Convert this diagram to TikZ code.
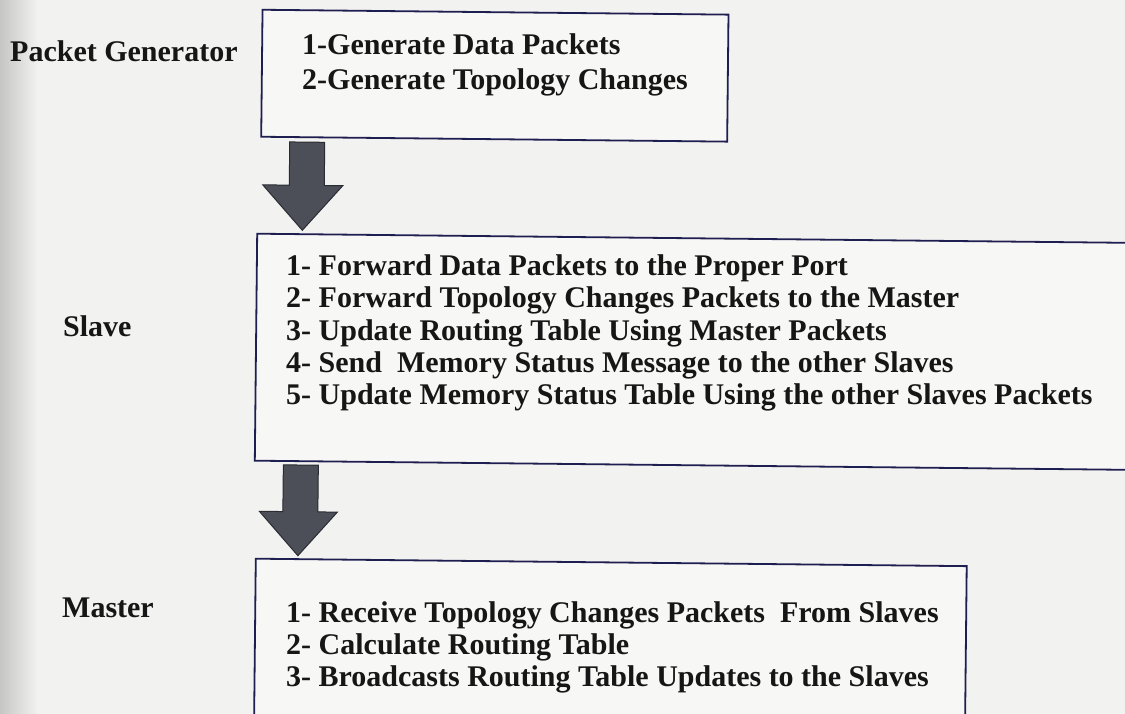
\documentclass[tikz,border=0pt]{standalone}
\usepackage{fontspec}
\setmainfont{Liberation Serif}
\usetikzlibrary{calc}

\definecolor{paper}{HTML}{F2F2F0}
\definecolor{paperedge}{HTML}{C6C6C4}
\definecolor{boxfill}{HTML}{F7F7F6}
\definecolor{frame}{HTML}{1E1E50}
\definecolor{ink}{HTML}{161616}
\definecolor{arrowfill}{HTML}{4C4F57}
\definecolor{arrowline}{HTML}{2A2C33}

\tikzset{
  stagebox/.style={draw=frame, line width=1.8pt, fill=boxfill, inner sep=0pt, anchor=north west},
  steptext/.style={anchor=base west, inner sep=0pt, text=ink, font=\bfseries\fontsize{30}{31.5}\selectfont},
  rolelabel/.style={anchor=base west, inner sep=0pt, text=ink, font=\bfseries\fontsize{30}{31.5}\selectfont},
  blockarrow/.style={fill=arrowfill, draw=arrowline, line width=1pt, line join=miter}
}

\begin{document}
\begin{tikzpicture}[x=1pt, y=-1pt]
  % page background with the darker strip at the binding side
  \fill[paper] (0,0) rectangle (1125,714);
  \shade[left color=paperedge, right color=paper] (0,0) rectangle (38,714);
  \useasboundingbox (0,0) rectangle (1125,714);
  \clip (0,0) rectangle (1125,714);

  % frames and arrows sit slightly skewed on the sheet
  \begin{scope}[rotate around={-0.6:(562,357)}]
    \node[stagebox, transform shape, minimum width=466pt, minimum height=127pt] (gen) at (258,12) {};
    \node[stagebox, transform shape, minimum width=880pt, minimum height=227pt] (slave) at (255,236) {};
    \node[stagebox, transform shape, minimum width=711pt, minimum height=190pt] (master) at (257,561) {};

    % block arrows between the stages
    \coordinate (a1) at ($(gen.south west)+(47,4)$);
    \coordinate (t1) at ($(slave.north west)+(46,-3)$);
    \draw[blockarrow] ($(a1)+(-17.5,0)$) -- ($(a1)+(17.5,0)$) |- ($(t1)+(40,-45)$)
      -- (t1) -- ($(t1)+(-40,-45)$) -| ($(a1)+(-17.5,0)$) -- cycle;

    \coordinate (a2) at ($(slave.south west)+(47,3)$);
    \coordinate (t2) at ($(master.north west)+(43,-2.5)$);
    \draw[blockarrow] ($(a2)+(-17.5,0)$) -- ($(a2)+(17.5,0)$) |- ($(t2)+(39,-44)$)
      -- (t2) -- ($(t2)+(-39,-44)$) -| ($(a2)+(-17.5,0)$) -- cycle;
  \end{scope}

  % role labels
  \node[rolelabel] (lgen) at (10,62) {Packet Generator};
  \node[rolelabel] (lslave) at (63,336) {Slave};
  \node[rolelabel] (lmaster) at (62,617) {Master};

  % packet generator tasks
  \node[steptext] (g1) at (302,55) {1-Generate Data Packets};
  \node[steptext] (g2) at (302,90) {2-Generate Topology Changes};

  % slave tasks
  \node[steptext] (s1) at (286,276) {1- Forward Data Packets to the Proper Port};
  \node[steptext] (s2) at (286,308) {2- Forward Topology Changes Packets to the Master};
  \node[steptext] (s3) at (286,340) {3- Update Routing Table Using Master Packets};
  \node[steptext] (s4) at (286,372) {4- Send\ \ Memory Status Message to the other Slaves};
  \node[steptext] (s5) at (286,404) {5- Update Memory Status Table Using the other Slaves Packets};

  % master tasks
  \node[steptext] (m1) at (286,622) {1- Receive Topology Changes Packets\ \ From Slaves};
  \node[steptext] (m2) at (286,654) {2- Calculate Routing Table};
  \node[steptext] (m3) at (286,686) {3- Broadcasts Routing Table Updates to the Slaves};
\end{tikzpicture}
\end{document}
